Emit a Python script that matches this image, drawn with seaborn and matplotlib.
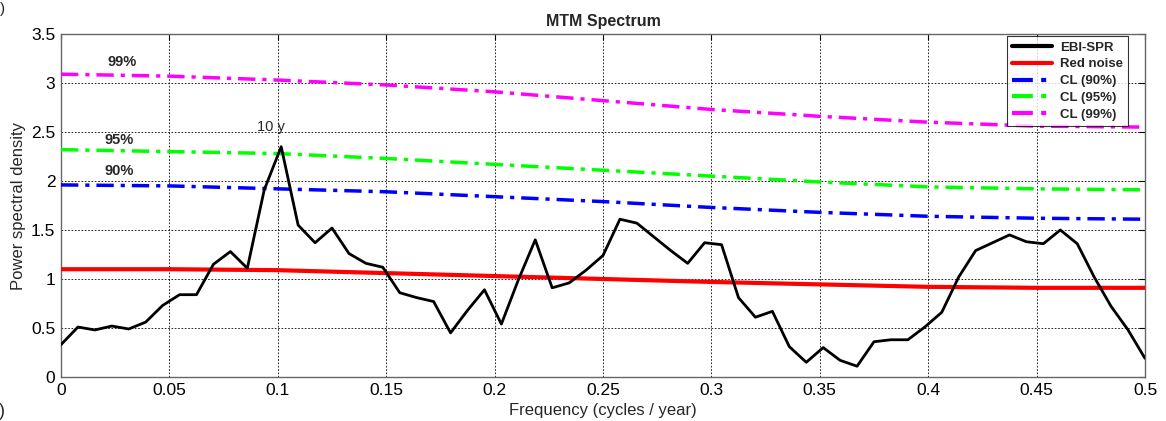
import numpy as np
import pandas as pd
import matplotlib
matplotlib.use("Agg")
import matplotlib.pyplot as plt
import matplotlib.ticker as mticker
import seaborn as sns

# ---- data ----
freq_spec = [k / 128 for k in range(65)]
psd = [0.33, 0.51, 0.48, 0.52, 0.49, 0.56, 0.73, 0.84, 0.84, 1.15,
       1.28, 1.11, 1.91, 2.35, 1.55, 1.37, 1.52, 1.26, 1.16, 1.12,
       0.86, 0.81, 0.77, 0.45, 0.68, 0.89, 0.54, 0.99, 1.40, 0.91,
       0.96, 1.09, 1.24, 1.61, 1.57, 1.43, 1.29, 1.16, 1.37, 1.35,
       0.81, 0.61, 0.67, 0.31, 0.15, 0.30, 0.17, 0.11, 0.36, 0.38,
       0.38, 0.51, 0.66, 1.02, 1.29, 1.37, 1.45, 1.38, 1.36, 1.50,
       1.36, 1.02, 0.72, 0.48, 0.19]

freq_ref = [0.0, 0.05, 0.1, 0.15, 0.2, 0.25, 0.3, 0.35, 0.4, 0.45, 0.5]
red_noise = [1.10, 1.10, 1.09, 1.06, 1.03, 1.00, 0.97, 0.945, 0.92, 0.91, 0.91]
cl90 = [1.96, 1.95, 1.92, 1.89, 1.84, 1.79, 1.73, 1.68, 1.64, 1.62, 1.61]
cl95 = [2.32, 2.30, 2.28, 2.23, 2.17, 2.11, 2.05, 1.99, 1.94, 1.92, 1.91]
cl99 = [3.09, 3.07, 3.03, 2.98, 2.91, 2.82, 2.73, 2.66, 2.60, 2.56, 2.55]

series_labels = ["EBI-SPR", "Red noise", "CL (90%)", "CL (95%)", "CL (99%)"]
x_ticks = [0, 0.05, 0.1, 0.15, 0.2, 0.25, 0.3, 0.35, 0.4, 0.45, 0.5]
y_ticks = [0, 0.5, 1, 1.5, 2, 2.5, 3, 3.5]

# ---- style ----
sns.set_style("white")
plt.rcParams['font.family'] = ['Liberation Sans', 'DejaVu Sans']

fig = plt.figure(figsize=(11.66, 4.21), dpi=100)
ax = fig.add_axes([61 / 1166, 1 - 377 / 421, (1145 - 61) / 1166, (377 - 34) / 421])

df_spec = pd.DataFrame({"f": freq_spec, "p": psd})
df_ref = pd.DataFrame({"f": freq_ref, "red": red_noise, "c90": cl90, "c95": cl95, "c99": cl99})

dashdot = (0, (5, 2, 1.2, 2))
sns.lineplot(data=df_spec, x="f", y="p", ax=ax, color="black", lw=2.0,
             label=series_labels[0], zorder=5)
sns.lineplot(data=df_ref, x="f", y="red", ax=ax, color="red", lw=3.0,
             label=series_labels[1], zorder=4)
sns.lineplot(data=df_ref, x="f", y="c90", ax=ax, color="blue", lw=2.5,
             linestyle=dashdot, label=series_labels[2], zorder=4)
sns.lineplot(data=df_ref, x="f", y="c95", ax=ax, color="#00ff00", lw=2.5,
             linestyle=dashdot, label=series_labels[3], zorder=4)
sns.lineplot(data=df_ref, x="f", y="c99", ax=ax, color="magenta", lw=2.5,
             linestyle=dashdot, label=series_labels[4], zorder=4)

ax.set_xlim(0, 0.5)
ax.set_ylim(0, 3.5)
ax.set_xticks(x_ticks)
ax.set_yticks(y_ticks)
ax.xaxis.set_major_formatter(mticker.FormatStrFormatter('%g'))
ax.yaxis.set_major_formatter(mticker.FormatStrFormatter('%g'))
ax.tick_params(direction="in", length=4, labelsize=12.5, colors="black",
               top=True, right=True, pad=4)
for sp in ax.spines.values():
    sp.set_color("#666666")
    sp.set_linewidth(1.0)
ax.grid(True, color="black", linestyle=(0, (2, 2)), linewidth=0.6)

ax.set_xlabel("Frequency (cycles / year)", fontsize=12, labelpad=4)
ax.set_ylabel("Power spectral density", fontsize=12, labelpad=4)
ax.set_title("MTM Spectrum", fontsize=11.5, fontweight="bold", pad=6)

ax.text(0.028, 3.21, "99%", fontsize=10.5, fontweight="bold", ha="center", va="center")
ax.text(0.027, 2.42, "95%", fontsize=10.5, fontweight="bold", ha="center", va="center")
ax.text(0.027, 2.10, "90%", fontsize=10.5, fontweight="bold", ha="center", va="center")
ax.text(0.097, 2.55, "10 y", fontsize=10.5, ha="center", va="center")

leg = ax.legend(loc="upper right", bbox_to_anchor=((1128 - 61) / 1084, (377 - 36) / 343),
                fontsize=9.5, frameon=True, fancybox=False,
                edgecolor="black", handlelength=3.0, handletextpad=0.6,
                borderpad=0.4, labelspacing=0.35, borderaxespad=0.0)
leg.get_frame().set_linewidth(0.8)
for t in leg.get_texts():
    t.set_fontweight("bold")
for h in leg.get_lines():
    h.set_linewidth(3.0)

fig.text(0.002, 0.995, ")", fontsize=11, ha="center", va="top")
fig.text(0.002, 0.002, ")", fontsize=13, ha="center", va="bottom")

fig.savefig("out.png", dpi=100)
